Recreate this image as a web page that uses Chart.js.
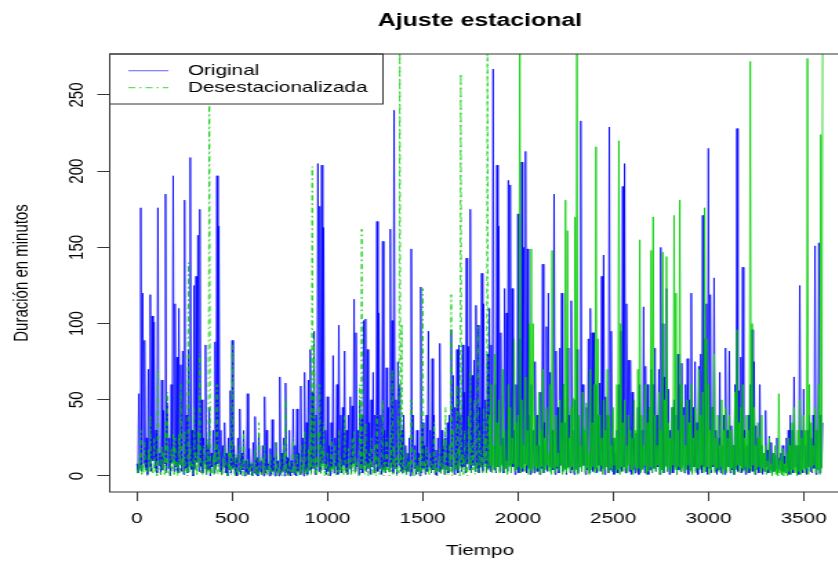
<!DOCTYPE html>
<html>
<head>
<meta charset="utf-8">
<script src="https://cdn.jsdelivr.net/npm/chart.js@4.4.1/dist/chart.umd.min.js"></script>
<style>
  html, body { margin: 0; padding: 0; overflow: hidden; background: #fff; }
  /* el grafico original esta estirado en horizontal */
  #marco { width: 620px; height: 561px; transform: scaleX(1.38); transform-origin: 0 0; }
  canvas { display: block; }
</style>
</head>
<body>
<div id="marco"><canvas id="grafico" width="620" height="561"></canvas></div>
<script>
// un valor cada 5 unidades de tiempo (alto, bajo, alto, bajo...)
const paso = 5;

const original = [
  8,2, 54,5, 176,3, 120,8, 89,4, 25,1, 70,6, 119,3, 105,10, 101,5,
  30,2, 176,7, 15,1, 63,4, 43,8, 185,2, 48,5, 25,0, 60,9, 197,3,
  113,6, 78,2, 110,8, 73,3, 82,1, 181,5, 40,2, 83,7, 209,4, 30,0,
  125,5, 131,9, 158,3, 175,6, 50,2, 25,8, 86,1, 20,4, 45,0, 15,6,
  30,2, 88,5, 197,8, 164,3, 30,1, 20,6, 35,2, 15,0, 25,4, 56,2,
  89,5, 20,1, 12,0, 25,3, 44,1, 15,4, 30,0, 10,2, 54,1, 18,3,
  8,0, 22,2, 39,1, 12,0, 28,3, 10,1, 20,0, 52,2, 30,4, 8,0,
  18,1, 37,3, 12,0, 22,2, 10,0, 65,1, 15,3, 25,0, 61,2, 12,1,
  30,0, 10,2, 44,1, 20,0, 44,3, 15,1, 59,2, 25,0, 68,3, 35,1,
  63,4, 83,2, 55,5, 95,1, 40,6, 205,3, 177,2, 204,8, 163,4, 30,1,
  52,3, 20,0, 35,5, 79,2, 25,6, 60,1, 99,4, 40,2, 45,7, 82,3,
  30,1, 40,5, 52,2, 46,8, 116,3, 94,6, 30,1, 50,4, 40,2, 102,7,
  103,3, 83,5, 35,1, 50,6, 68,2, 40,8, 167,3, 107,5, 40,1, 154,4,
  30,2, 71,6, 45,3, 162,8, 102,2, 240,5, 50,1, 75,7, 60,3, 30,2,
  40,4, 20,1, 15,3, 25,0, 149,2, 40,5, 20,1, 30,3, 15,0, 124,2,
  35,5, 20,1, 40,3, 95,6, 30,2, 77,4, 40,1, 17,0, 25,3, 87,2,
  30,5, 20,1, 25,4, 35,2, 40,6, 96,3, 66,1, 45,5, 83,2, 86,7,
  40,3, 86,6, 55,2, 143,8, 85,4, 175,2, 66,7, 76,3, 112,5, 99,2,
  45,6, 133,3, 113,8, 50,2, 80,5, 110,3, 86,7, 267,4, 60,2, 204,6,
  164,3, 94,8, 25,2, 123,5, 107,3, 194,7, 191,2, 123,6, 30,1, 60,4,
  172,2, 90,6, 206,3, 150,8, 213,2, 149,5, 40,1, 60,4, 30,2, 75,6,
  40,3, 20,1, 55,5, 139,2, 35,7, 98,3, 120,6, 68,2, 30,4, 185,1,
  82,5, 45,2, 84,7, 120,3, 60,5, 35,1, 84,6, 40,2, 115,4, 30,1,
  50,5, 83,2, 40,6, 233,3, 60,7, 30,1, 45,4, 90,2, 110,6, 94,3,
  94,5, 60,2, 40,7, 61,3, 131,5, 145,1, 52,6, 40,2, 229,4, 95,3,
  25,1, 15,4, 30,2, 60,5, 95,3, 190,6, 205,2, 113,7, 76,3, 76,1,
  55,4, 25,2, 28,6, 45,1, 60,3, 30,5, 111,2, 72,6, 60,1, 45,4,
  70,2, 60,5, 84,3, 40,6, 70,1, 150,4, 100,2, 65,7, 123,3, 57,1,
  30,5, 45,2, 50,6, 40,1, 80,4, 60,3, 74,7, 45,2, 60,5, 77,1,
  50,4, 120,2, 45,6, 75,3, 35,1, 72,5, 80,2, 171,6, 90,3, 113,1,
  215,5, 119,2, 45,6, 130,3, 30,1, 25,4, 68,2, 20,5, 40,1, 84,3,
  30,6, 82,2, 33,4, 20,1, 60,5, 228,3, 56,7, 78,2, 137,4, 30,1,
  20,5, 40,2, 60,6, 96,3, 75,1, 33,4, 25,2, 60,5, 20,1, 15,3,
  43,6, 17,2, 26,4, 22,1, 15,3, 14,5, 25,2, 12,4, 15,1, 20,3,
  13,2, 25,5, 30,1, 40,4, 30,2, 65,6, 20,3, 20,1, 125,4, 30,2,
  57,5, 20,1, 30,6, 40,3, 25,2, 40,5, 151,1, 30,4, 153,2, 40,6,
  35
];

const desestacionalizada = [
  5,1, 12,3, 30,0, 8,2, 22,4, 3,0, 18,2, 40,5, 6,1, 25,3,
  10,0, 70,4, 4,1, 20,3, 15,0, 35,2, 55,5, 2,0, 18,3, 30,1,
  25,4, 9,0, 28,2, 60,5, 12,1, 30,3, 5,0, 140,2, 20,4, 8,1,
  45,3, 15,0, 30,5, 80,2, 6,1, 20,4, 10,0, 25,3, 290,1, 5,2,
  14,0, 22,4, 60,1, 18,3, 4,0, 12,2, 20,5, 3,0, 15,2, 22,1,
  86,4, 6,0, 15,2, 4,1, 20,3, 8,0, 30,2, 2,0, 12,3, 5,1,
  10,0, 3,2, 18,1, 6,0, 35,3, 2,0, 12,2, 20,1, 4,0, 9,3,
  15,0, 2,1, 10,3, 22,0, 5,2, 14,1, 3,0, 20,4, 51,1, 6,0,
  12,2, 4,0, 25,3, 8,1, 15,0, 3,2, 20,0, 10,3, 30,1, 6,0,
  18,3, 40,1, 203,4, 90,2, 12,0, 30,5, 60,1, 20,3, 35,0, 8,2,
  15,0, 5,3, 25,1, 10,4, 20,0, 4,2, 30,1, 12,3, 8,0, 40,2,
  6,1, 18,4, 10,0, 25,3, 30,1, 12,5, 5,0, 60,2, 162,4, 20,1,
  35,3, 8,0, 15,4, 25,1, 6,2, 20,0, 40,5, 12,1, 5,3, 50,0,
  10,2, 25,4, 8,0, 30,3, 70,1, 20,5, 12,0, 40,2, 290,4, 100,1,
  20,3, 6,0, 15,2, 10,4, 50,1, 5,0, 18,3, 8,1, 12,0, 25,2,
  123,4, 10,1, 20,3, 4,0, 15,2, 8,5, 35,1, 12,0, 5,3, 18,1,
  10,4, 25,0, 45,2, 6,1, 20,3, 119,0, 30,5, 12,1, 60,3, 20,0,
  264,4, 15,1, 30,3, 8,0, 40,5, 70,2, 20,4, 50,1, 10,3, 98,2,
  30,5, 15,2, 45,6, 25,1, 300,4, 40,7, 60,2, 20,5, 80,3, 35,6,
  50,2, 20,7, 70,3, 30,5, 10,1, 60,6, 45,2, 25,8, 90,3, 35,4,
  40,6, 300,2, 50,5, 20,3, 65,7, 30,1, 100,4, 149,2, 100,6, 40,3,
  20,5, 55,1, 30,6, 70,2, 25,4, 45,7, 15,3, 60,1, 148,5, 30,2,
  40,6, 15,3, 50,7, 35,1, 60,4, 181,2, 161,5, 25,3, 45,6, 51,2,
  170,4, 300,1, 40,6, 20,3, 55,7, 30,2, 48,5, 15,1, 70,4, 35,6,
  60,2, 216,5, 90,3, 40,7, 25,1, 50,4, 30,6, 70,2, 40,5, 20,3,
  45,7, 25,2, 60,4, 220,1, 100,6, 35,3, 50,5, 20,2, 40,7, 30,4,
  25,1, 50,6, 30,3, 70,5, 155,2, 40,4, 20,7, 60,1, 35,3, 45,6,
  148,2, 170,5, 40,3, 20,7, 55,1, 30,4, 147,2, 50,6, 144,3, 35,5,
  25,2, 45,7, 171,4, 120,1, 30,6, 181,3, 60,5, 40,2, 20,4, 50,7,
  35,3, 60,1, 25,6, 45,2, 30,5, 70,4, 40,7, 55,2, 176,3, 90,6,
  60,1, 30,4, 45,7, 80,2, 25,5, 40,3, 20,6, 50,1, 30,4, 45,2,
  25,6, 40,3, 30,5, 20,1, 55,4, 96,7, 35,2, 45,5, 60,3, 25,6,
  40,2, 30,5, 272,3, 100,7, 45,1, 20,4, 35,6, 25,2, 40,5, 15,3,
  20,1, 10,4, 25,2, 8,0, 15,3, 20,1, 12,0, 54,2, 10,1, 18,0,
  8,2, 15,0, 25,3, 20,1, 35,4, 45,2, 20,0, 30,3, 50,1, 25,4,
  40,2, 30,5, 274,1, 60,6, 35,3, 20,7, 45,2, 30,4, 60,1, 224,5,
  300
];

const marcasX = [0, 500, 1000, 1500, 2000, 2500, 3000, 3500];
const marcasY = [0, 50, 100, 150, 200, 250];
const series = ["Original", "Desestacionalizada"];

const colores = {
  azul: "#0000ff",
  verde: "#00cd00",
  ejes: "#333333",
  texto: "#000000",
};
const fuente = "'Liberation Sans', Arial, sans-serif";
const guion = [5, 3, 1.5, 3];
// a partir de aqui la serie verde es tan densa que el guion se ve continuo
const inicioDenso = 1845;

// caja del grafico y leyenda arriba a la izquierda
const cajaYLeyenda = {
  id: "cajaYLeyenda",
  afterDraw(chart) {
    const { ctx, chartArea: a } = chart;
    ctx.save();
    ctx.lineWidth = 1;
    ctx.strokeStyle = colores.ejes;

    const lx = a.left, ly = a.top, lw = 198, lh = 50;
    ctx.fillStyle = "#fff";
    ctx.fillRect(lx, ly, lw, lh);
    ctx.strokeRect(lx, ly, lw, lh);

    const filas = [ly + 16.7, ly + 33.7];
    ctx.lineWidth = 1.2;
    ctx.strokeStyle = "#7878ff";
    ctx.beginPath();
    ctx.moveTo(93, filas[0]);
    ctx.lineTo(122, filas[0]);
    ctx.stroke();
    ctx.strokeStyle = "#66dd66";
    ctx.setLineDash(guion);
    ctx.beginPath();
    ctx.moveTo(93, filas[1]);
    ctx.lineTo(122, filas[1]);
    ctx.stroke();
    ctx.setLineDash([]);

    ctx.fillStyle = colores.texto;
    ctx.font = "15px " + fuente;
    ctx.textBaseline = "middle";
    ctx.textAlign = "left";
    ctx.fillText(series[0], 136.2, filas[0]);
    ctx.fillText(series[1], 136.2, filas[1]);

    ctx.lineWidth = 1;
    ctx.strokeStyle = colores.ejes;
    ctx.strokeRect(a.left, a.top, a.right - a.left, a.bottom - a.top);
    ctx.restore();
  }
};

const ctx = document.getElementById("grafico").getContext("2d");
new Chart(ctx, {
  type: "line",
  data: {
    datasets: [
      {
        label: series[0],
        data: original.map((v, i) => ({ x: i * paso, y: v })),
        borderColor: colores.azul,
        borderWidth: 0.8,
        borderJoinStyle: "round",
        pointRadius: 0,
        tension: 0,
        fill: false,
        order: 2,
      },
      {
        label: series[1],
        data: desestacionalizada.map((v, i) => ({ x: i * paso, y: v })),
        borderColor: colores.verde,
        borderWidth: 0.8,
        borderDash: guion,
        segment: {
          borderDash: c => (c.p0.parsed.x >= inicioDenso ? [] : guion)
        },
        borderJoinStyle: "round",
        pointRadius: 0,
        tension: 0,
        fill: false,
        order: 1,
      }
    ]
  },
  options: {
    responsive: false,
    animation: false,
    devicePixelRatio: 1,
    events: [],
    layout: { padding: { left: 0, right: 4, top: 0, bottom: 0 } },
    plugins: {
      legend: { display: false },
      tooltip: { enabled: false },
      title: {
        display: true,
        fullSize: false,
        text: "Ajuste estacional",
        color: colores.texto,
        font: { family: fuente, size: 18, weight: "bold" },
        padding: { top: 10, bottom: 22.4 }
      }
    },
    scales: {
      x: {
        type: "linear",
        min: -143,
        max: 3744,
        afterFit: s => { s.height = 69; },
        afterBuildTicks: s => { s.ticks = marcasX.map(v => ({ value: v })); },
        ticks: {
          autoSkip: false,
          maxRotation: 0,
          padding: 9,
          color: colores.texto,
          font: { family: fuente, size: 15 },
          callback: v => String(v)
        },
        grid: { drawOnChartArea: false, drawTicks: true, tickLength: 9, color: colores.ejes },
        border: { display: false },
        title: {
          display: true,
          text: "Tiempo",
          color: colores.texto,
          font: { family: fuente, size: 15 },
          padding: { top: 0, bottom: 1 }
        }
      },
      y: {
        min: -10.5,
        max: 276.9,
        afterFit: s => { s.width = 79.5; },
        afterBuildTicks: s => { s.ticks = marcasY.map(v => ({ value: v })); },
        ticks: {
          autoSkip: false,
          minRotation: 90,
          maxRotation: 90,
          crossAlign: "center",
          padding: 2,
          color: colores.texto,
          font: { family: fuente, size: 15 },
          callback: v => String(v)
        },
        grid: { drawOnChartArea: false, drawTicks: true, tickLength: 9, color: colores.ejes },
        border: { display: false },
        title: {
          display: true,
          text: "Duración en minutos",
          color: colores.texto,
          font: { family: fuente, size: 15 },
          padding: { top: 7, bottom: 0 }
        }
      }
    }
  },
  plugins: [cajaYLeyenda]
});
</script>
</body>
</html>
